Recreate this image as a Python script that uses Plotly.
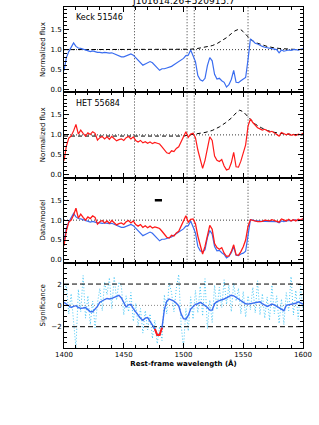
import numpy as np
import plotly.graph_objects as go
from plotly.subplots import make_subplots

# ---------------- data ----------------
title_text = "J101614.26+520915.7"
label_keck = "Keck 51546"
label_het = "HET 55684"

wave = list(range(1400, 1601, 2))

keck_flux = [0.47, 0.80, 0.95, 1.08, 1.17, 1.08, 1.04, 1.03, 1.01, 0.99,
             0.98, 0.95, 0.97, 0.94, 0.93, 0.93, 0.92, 0.93, 0.92, 0.91,
             0.92, 0.90, 0.88, 0.85, 0.82, 0.82, 0.84, 0.86, 0.89, 0.86,
             0.80, 0.72, 0.66, 0.61, 0.64, 0.68, 0.70, 0.67, 0.60, 0.55,
             0.48, 0.52, 0.52, 0.54, 0.56, 0.58, 0.62, 0.66, 0.72, 0.76,
             0.78, 0.85, 0.86, 0.99, 0.85, 0.70, 0.35, 0.24, 0.21, 0.28,
             0.60, 0.80, 0.72, 0.38, 0.26, 0.28, 0.22, 0.18, 0.06, 0.12,
             0.25, 0.48, 0.18, 0.17, 0.22, 0.25, 0.30, 0.75, 1.27, 1.22,
             1.16, 1.14, 1.10, 1.08, 1.06, 1.05, 1.04, 1.03, 1.02, 1.00,
             0.92, 0.99, 0.96, 0.97, 0.99, 0.98, 1.00, 1.00, 0.99, 1.01,
             1.02]

het_flux = [0.35, 0.72, 0.92, 0.97, 1.10, 1.26, 1.02, 1.12, 1.04, 0.97,
            1.05, 1.01, 1.08, 1.04, 0.87, 0.93, 0.96, 0.90, 0.95, 0.89,
            0.96, 0.91, 0.85, 0.88, 0.90, 0.86, 0.93, 0.96, 0.90, 0.95,
            0.86, 0.82, 0.86, 0.80, 0.83, 0.79, 0.82, 0.78, 0.81, 0.79,
            0.77, 0.70, 0.62, 0.55, 0.53, 0.60, 0.58, 0.66, 0.70, 0.82,
            0.98, 1.08, 0.94, 1.02, 1.04, 0.93, 0.62, 0.40, 0.16, 0.36,
            0.68, 0.95, 0.86, 0.47, 0.36, 0.33, 0.38, 0.22, 0.12, 0.14,
            0.30, 0.56, 0.20, 0.19, 0.34, 0.52, 0.75, 1.22, 1.40, 1.31,
            1.25, 1.18, 1.15, 1.12, 1.14, 1.10, 1.07, 1.09, 1.05, 1.01,
            0.97, 1.06, 1.02, 1.00, 1.03, 0.99, 1.01, 0.98, 1.02, 1.00,
            1.04]

model1_wave = [1400, 1500, 1506, 1512, 1518, 1524, 1528, 1532, 1536, 1540, 1543,
               1546, 1548, 1550, 1553, 1556, 1560, 1565, 1570, 1575, 1580, 1590, 1600]
model1_flux = [1.0, 1.0, 1.01, 1.03, 1.06, 1.10, 1.15, 1.22, 1.30, 1.40, 1.47,
               1.51, 1.50, 1.45, 1.35, 1.26, 1.18, 1.12, 1.08, 1.05, 1.03, 1.01, 1.0]

model2_wave = [1400, 1500, 1505, 1512, 1518, 1524, 1530, 1535, 1540, 1544, 1547,
               1550, 1553, 1556, 1560, 1565, 1570, 1575, 1580, 1590, 1600]
model2_flux = [0.97, 0.97, 1.0, 1.03, 1.06, 1.11, 1.20, 1.30, 1.42, 1.55, 1.62,
               1.58, 1.48, 1.38, 1.27, 1.18, 1.11, 1.07, 1.04, 1.01, 1.0]

keck_ratio = [0.47, 0.80, 0.95, 1.08, 1.17, 1.08, 1.04, 1.03, 1.01, 0.99,
              0.98, 0.95, 0.97, 0.94, 0.93, 0.93, 0.92, 0.93, 0.92, 0.91,
              0.92, 0.90, 0.88, 0.85, 0.82, 0.82, 0.84, 0.86, 0.89, 0.86,
              0.80, 0.72, 0.66, 0.61, 0.64, 0.68, 0.70, 0.67, 0.60, 0.55,
              0.48, 0.52, 0.52, 0.54, 0.56, 0.58, 0.62, 0.66, 0.72, 0.76,
              0.78, 0.85, 0.86, 0.98, 0.83, 0.68, 0.34, 0.23, 0.20, 0.26,
              0.56, 0.74, 0.65, 0.34, 0.23, 0.24, 0.18, 0.14, 0.05, 0.09,
              0.18, 0.33, 0.12, 0.11, 0.15, 0.17, 0.22, 0.57, 1.01, 1.00,
              0.98, 0.98, 0.97, 0.97, 0.97, 0.97, 0.97, 0.97, 0.97, 0.96,
              0.93, 0.98, 0.96, 0.97, 0.99, 0.98, 1.00, 1.00, 0.99, 1.01,
              1.02]

het_ratio = [0.36, 0.74, 0.95, 1.00, 1.13, 1.30, 1.05, 1.15, 1.07, 1.00,
             1.08, 1.04, 1.11, 1.07, 0.90, 0.96, 0.99, 0.93, 0.98, 0.92,
             0.99, 0.94, 0.88, 0.91, 0.93, 0.89, 0.96, 0.99, 0.93, 0.98,
             0.89, 0.85, 0.89, 0.82, 0.86, 0.81, 0.85, 0.80, 0.83, 0.81,
             0.79, 0.72, 0.64, 0.57, 0.55, 0.62, 0.60, 0.68, 0.72, 0.85,
             1.01, 1.11, 0.95, 1.02, 1.03, 0.91, 0.60, 0.38, 0.15, 0.34,
             0.63, 0.87, 0.77, 0.41, 0.31, 0.27, 0.31, 0.17, 0.09, 0.10,
             0.21, 0.38, 0.13, 0.12, 0.21, 0.33, 0.50, 0.84, 1.01, 0.99,
             0.98, 0.96, 0.96, 0.97, 1.00, 0.99, 0.98, 1.01, 0.99, 0.98,
             0.95, 1.03, 1.00, 0.98, 1.02, 0.98, 1.01, 0.98, 1.02, 1.00,
             1.04]

sig_raw = [1.2, 2.0, -0.8, 1.1, -1.5, -4.0, 1.5, -0.6, 2.8, -1.2,
           0.9, -1.8, 0.4, -2.1, 0.2, 1.6, -0.5, 2.2, 1.0, 2.6,
           -0.3, 2.7, 0.5, 2.2, 1.8, -0.9, 0.9, -0.6, 1.2, -1.5,
           0.2, -1.9, -0.3, -2.6, -0.5, -2.3, -0.8, -3.1, -1.4, -3.6,
           -2.0, -3.3, 1.0, -0.8, 2.1, 1.2, -0.6, 1.6, 2.9, -1.8,
           -4.0, -0.3, -2.4, 0.8, -1.3, 1.4, -0.7, 1.8, -1.0, 2.5,
           -2.2, 0.5, -1.6, 1.9, -0.4, 1.7, -0.2, 2.4, 0.1, 1.9,
           -0.6, 2.1, 0.4, 1.6, -0.8, 1.3, -1.1, 0.9, -0.4, 1.7,
           -0.7, 2.3, -0.9, 1.1, -1.2, 0.8, -1.4, 1.9, -0.8, 0.9,
           -1.7, 0.6, -1.8, 1.2, -0.5, 2.7, -0.9, 1.4, -1.3, 1.8,
           -0.6]

sig_smooth = [0.28, 0.12, 0.0, -0.2, -0.1, -0.03, -0.2, -0.28, -0.25, -0.2,
              -0.4, -0.6, -0.6, -0.35, -0.1, 0.3, 0.45, 0.55, 0.65, 0.6,
              0.65, 0.75, 0.9, 0.95, 0.7, 0.3, -0.15, 0.05, 0.1, -0.3,
              -0.6, -0.95, -1.2, -1.4, -1.2, -1.15, -1.55, -1.85, -2.2, -2.78,
              -2.78, -2.1, -0.4, 0.4, 0.6, 0.5, 0.4, 0.2, -0.05, -0.8,
              -1.25, -1.3, -0.95, -0.35, -0.1, 0.1, 0.15, 0.28, 0.15, 0.0,
              -0.2, -0.45, -0.45, 0.15, 0.35, 0.45, 0.5, 0.6, 0.7, 0.85,
              0.95, 0.9, 0.75, 0.6, 0.4, 0.28, 0.15, 0.12, 0.15, 0.2,
              0.2, 0.25, 0.33, 0.15, 0.03, -0.1, 0.0, 0.12, 0.05, -0.1,
              -0.28, -0.4, -0.5, 0.0, 0.05, 0.1, 0.12, 0.2, 0.33, 0.2,
              0.12]

vline_waves = [1459, 1503, 1509, 1554]
bar_wave = [1476, 1482]
bar_level = [1.5, 1.5]
sig_threshold = 2.0

# ---------------- figure ----------------
BLUE = "#3a6df0"
RED = "#ff1a1a"
CYAN = "#45c6f5"
FONT = "DejaVu Sans"

fig = make_subplots(rows=4, cols=1, shared_xaxes=True, vertical_spacing=0)

def ln(color, width=1.1, dash="solid"):
    return dict(color=color, width=width, dash=dash)

# vertical dotted lines in panels 1-3 (drawn first, underneath)
for r in (1, 2, 3):
    for w in vline_waves:
        fig.add_trace(go.Scatter(x=[w, w], y=[-0.07, 2.07], mode="lines",
                                 line=dict(color="#222", width=0.9, dash="1px,2px")), row=r, col=1)

# panel 1
fig.add_trace(go.Scatter(x=[1400, 1600], y=[1, 1], mode="lines", line=ln("#222", 0.9, "1px,2px")), row=1, col=1)
fig.add_trace(go.Scatter(x=model1_wave, y=model1_flux, mode="lines", line=ln("black", 1.0, "4px,3px")), row=1, col=1)
fig.add_trace(go.Scatter(x=wave, y=keck_flux, mode="lines", line=ln(BLUE, 1.2)), row=1, col=1)

# panel 2
fig.add_trace(go.Scatter(x=[1400, 1600], y=[1, 1], mode="lines", line=ln("#222", 0.9, "1px,2px")), row=2, col=1)
fig.add_trace(go.Scatter(x=model2_wave, y=model2_flux, mode="lines", line=ln("black", 1.0, "4px,3px")), row=2, col=1)
fig.add_trace(go.Scatter(x=wave, y=het_flux, mode="lines", line=ln(RED, 1.2)), row=2, col=1)

# panel 3
fig.add_trace(go.Scatter(x=[1400, 1600], y=[1, 1], mode="lines", line=ln("#222", 0.9, "1px,2px")), row=3, col=1)
fig.add_trace(go.Scatter(x=wave, y=keck_ratio, mode="lines", line=ln(BLUE, 1.2)), row=3, col=1)
fig.add_trace(go.Scatter(x=wave, y=het_ratio, mode="lines", line=ln(RED, 1.3)), row=3, col=1)
fig.add_trace(go.Scatter(x=bar_wave, y=bar_level, mode="lines", line=ln("black", 2.5)), row=3, col=1)

# panel 4
fig.add_trace(go.Scatter(x=wave, y=sig_raw, mode="lines", line=ln(CYAN, 1.0, "1px,2px")), row=4, col=1)
fig.add_trace(go.Scatter(x=[1400, 1600], y=[0, 0], mode="lines", line=ln("#888", 1.0, "1px,2px")), row=4, col=1)
for lv in (sig_threshold, -sig_threshold):
    fig.add_trace(go.Scatter(x=[1400, 1600], y=[lv, lv], mode="lines", line=ln("black", 1.0, "5px,3px")), row=4, col=1)
fig.add_trace(go.Scatter(x=wave, y=sig_smooth, mode="lines", line=ln(BLUE, 1.4)), row=4, col=1)
sig_red = [v if v <= -sig_threshold else None for v in sig_smooth]
fig.add_trace(go.Scatter(x=wave, y=sig_red, mode="lines", line=ln(RED, 2.0), connectgaps=False), row=4, col=1)

axis_common = dict(showline=True, linecolor="black", linewidth=1, mirror="allticks",
                   ticks="inside", tickcolor="black", ticklen=5, tickwidth=0.8,
                   showgrid=False, zeroline=False, automargin=False,
                   tickfont=dict(family=FONT, size=7, color="black"))

for r in (1, 2, 3, 4):
    fig.update_xaxes(range=[1400, 1600], dtick=50, tick0=1400,
                     minor=dict(ticks="inside", dtick=10, ticklen=3, tickcolor="black", showgrid=False),
                     showticklabels=(r == 4), row=r, col=1, **axis_common)

ytitles = ["Normalized flux", "Normalized flux", "Data/model", "Significance"]
for r in (1, 2, 3):
    fig.update_yaxes(range=[-0.07, 2.07], tickvals=[0, 0.5, 1.0, 1.5],
                     ticktext=["0.0", "0.5", "1.0", "1.5"],
                     minor=dict(ticks="inside", dtick=0.1, tick0=0, ticklen=3, tickcolor="black"),
                     title=dict(text=ytitles[r - 1], font=dict(family=FONT, size=7, color="black"), standoff=4),
                     row=r, col=1, **axis_common)
fig.update_yaxes(range=[-4, 4], tickvals=[-2, 0, 2],
                 minor=dict(ticks="inside", dtick=0.5, tick0=0, ticklen=3, tickcolor="black"),
                 title=dict(text=ytitles[3], font=dict(family=FONT, size=7, color="black"), standoff=4),
                 row=4, col=1, **axis_common)
fig.update_xaxes(title=dict(text="<b>Rest-frame wavelength (Å)</b>",
                            font=dict(family=FONT, size=7, color="black"), standoff=2),
                 row=4, col=1)

fig.add_annotation(text=label_keck, x=1408, y=1.8, xref="x", yref="y", xanchor="left",
                   yanchor="middle", showarrow=False, font=dict(family=FONT, size=8, color="black"))
fig.add_annotation(text=label_het, x=1408, y=1.8, xref="x2", yref="y2", xanchor="left",
                   yanchor="middle", showarrow=False, font=dict(family=FONT, size=8, color="black"))
fig.add_annotation(text=title_text, x=0.5, y=1, xref="paper", yref="paper", xanchor="center",
                   yanchor="bottom", yshift=-1, showarrow=False,
                   font=dict(family=FONT, size=9, color="black"))

fig.update_layout(width=319, height=425, showlegend=False,
                  margin=dict(l=64, r=16, t=7, b=77),
                  paper_bgcolor="white", plot_bgcolor="white")

fig.write_html("out.html", config={"displayModeBar": False},
               post_script="document.body.style.margin='0';document.body.style.overflow='hidden';")
